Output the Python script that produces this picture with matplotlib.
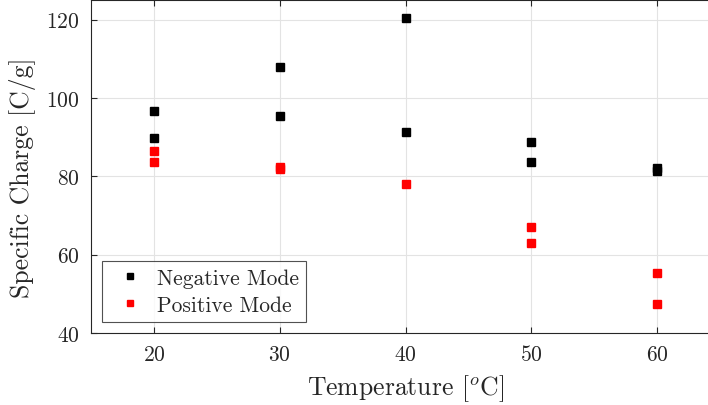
import matplotlib
matplotlib.use('Agg')
import matplotlib.pyplot as plt

plt.rcParams['font.family'] = 'serif'
plt.rcParams['font.serif'] = ['cmr10']
plt.rcParams['mathtext.fontset'] = 'cm'
plt.rcParams['axes.formatter.use_mathtext'] = True

# data
neg_temp = [20, 20, 30, 30, 40, 40, 50, 50, 60, 60]
neg_charge = [96.6, 89.9, 107.9, 95.5, 120.4, 91.3, 88.7, 83.6, 82.1, 81.4]
pos_temp = [20, 20, 30, 30, 40, 50, 50, 60, 60]
pos_charge = [86.4, 83.6, 82.4, 81.9, 78.0, 67.0, 63.0, 55.3, 47.4]

xticks = [20, 30, 40, 50, 60]
yticks = [40, 60, 80, 100, 120]

dark = '#262626'

fig = plt.figure(figsize=(7.08, 4.06), dpi=100)
ax = fig.add_axes([91 / 708, 72 / 406, 629 / 708, 333 / 406])

ax.plot(neg_temp, neg_charge, 's', color='black', markersize=6, label='Negative Mode')
ax.plot(pos_temp, pos_charge, 's', color='red', markersize=6, label='Positive Mode')

ax.set_xlim(15, 65)
ax.set_ylim(40, 125)
ax.set_xticks(xticks)
ax.set_yticks(yticks)
ax.grid(True, color='#e3e3e3', linewidth=0.8)
ax.set_axisbelow(True)

for s in ax.spines.values():
    s.set_color(dark)
    s.set_linewidth(0.8)
ax.tick_params(direction='in', top=True, right=True, length=4, color=dark,
               labelcolor=dark, labelsize=15.5, pad=8)

ax.set_xlabel(r'Temperature [$^o$C]', fontsize=18.5, color=dark, labelpad=6)
ax.set_ylabel('Specific Charge [C/g]', fontsize=18.5, color=dark)
ax.yaxis.set_label_coords(-0.088, 0.47)

leg = ax.legend(loc='lower left', fontsize=15.5, frameon=True, fancybox=False,
                edgecolor=dark, borderaxespad=0.5, handletextpad=0.3,
                handlelength=1.9, borderpad=0.35, labelspacing=0.35,
                markerscale=0.8)
leg.get_frame().set_linewidth(0.8)
for t in leg.get_texts():
    t.set_color(dark)

fig.savefig('out.png', dpi=100)
